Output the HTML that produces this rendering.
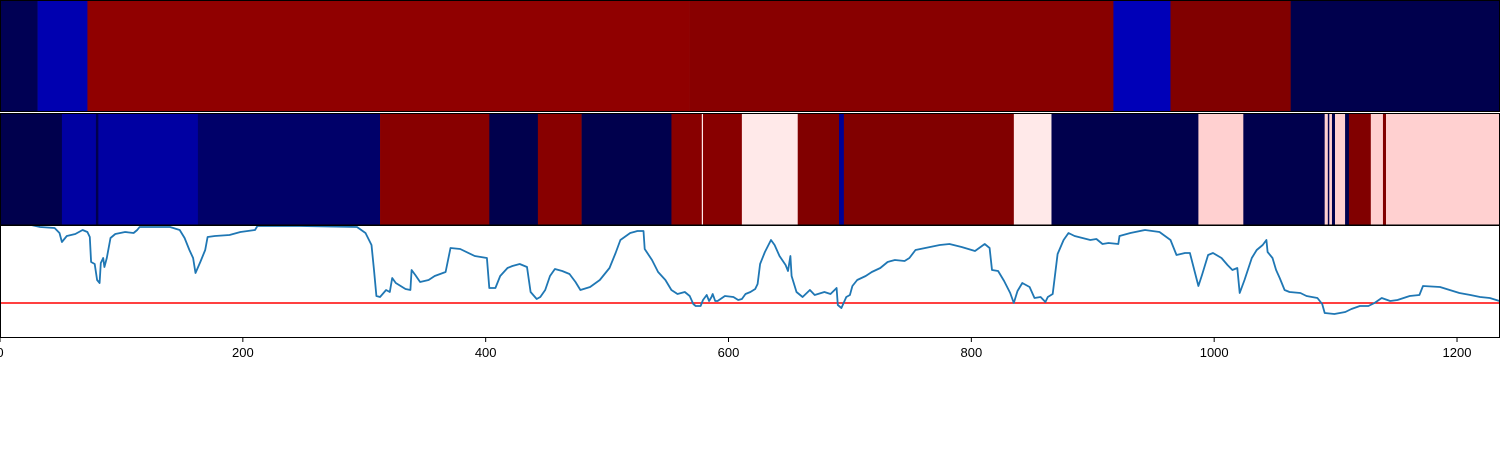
<!DOCTYPE html>
<html><head><meta charset="utf-8"><style>
html,body{margin:0;padding:0;background:#fff;}
svg{display:block;font-family:"Liberation Sans","DejaVu Sans",sans-serif;}
</style></head><body>
<svg id="chart" width="1500" height="450" xmlns="http://www.w3.org/2000/svg">
<g id="row1"></g>
<g id="row2"></g>
<g id="linepanel"></g>
<g id="xaxis"></g>
</svg>
<script>
// ---- data ----
const row1Starts = [0, 31, 72, 568, 917, 964, 1063];
const row1Values = [0.01, 0.14, 0.967, 0.983, 0.15, 0.998, 0.0];
const row2Starts = [0, 51, 79, 81, 163, 313, 403, 443, 479, 553, 578, 579, 581, 611, 657, 691, 695, 835, 866, 987, 1024, 1091, 1093.6, 1094.8, 1097, 1099.5, 1107.8, 1111, 1129, 1139, 1141.5];
const row2Values = [0.0, 0.12, 0.0, 0.12, 0.04, 0.983, 0.0, 0.983, 0.0, 0.983, 0.522, 0.983, 0.983, 0.522, 0.998, 0.1, 0.998, 0.522, 0.0, 0.546, 0.0, 0.546, 0.0, 0.546, 0.0, 0.546, 0.0, 0.998, 0.546, 0.998, 0.546];
const xEnd = 1235.4;
const lineX = [0,33,45,49,51,55,62,68,72,74,75,78,80,82,83,85,86,88,91,95,103,110,113,115,140,148,152,156,159,161,165,169,171,177,189,198,210,212,247,294,301,306,308,310,313,318,321,323,326,334,338,339,342,346,353,358,367,371,379,391,401,403,408,412,418,422,428,434,437,442,445,449,453,457,463,469,474,478,486,494,502,507,511,519,525,530,531,537,542,548,553,558,564,568,571,573,577,579,582,584,586,587,589,591,597,604,608,611,614,618,622,624,626,630,635,638,642,647,649,651,652,656,661,667,671,679,684,689,690,693,697,700,702,706,713,718,725,731,737,745,749,754,766,774,782,792,803,811,815,817,822,827,832,835,838,842,848,852,857,861,863,867,871,876,880,885,898,903,908,913,921,922,931,943,955,964,969,976,980,984,987,990,995,999,1006,1011,1015,1019,1021,1025,1031,1035,1040,1043,1044,1048,1051,1054,1058,1062,1071,1076,1085,1089,1091,1099,1108,1113,1120,1127,1132,1138,1145,1151,1161,1169,1172,1186,1194,1202,1211,1219,1227,1235];
const lineY = [85,76,75,70,61,67,69,73,71,66,41,39,23,20,40,45,36,45,65,69,71,70,73,76,76,73,65,53,45,30,41,53,66,67,68,71,73,77,77,76,70,58,33,7,6,13,11,25,20,14,13,33,28,21,23,27,31,55,54,47,45,15,15,27,35,37,39,36,11,4,6,13,27,34,32,29,21,13,16,23,35,50,63,70,72,72,54,43,31,23,13,9,11,7,-1,-3,-3,3,8,2,6,9,2,2,7,6,3,4,9,11,14,19,39,51,63,58,47,38,32,47,27,11,6,13,8,11,9,15,-2,-5,6,8,17,23,27,31,35,41,43,42,45,53,56,58,59,56,52,59,55,33,32,22,10,0,12,20,16,5,6,1,6,9,49,63,70,67,63,64,59,60,59,67,70,73,71,63,48,50,50,31,17,28,48,50,45,38,33,35,10,23,45,53,58,63,51,45,33,25,13,11,10,7,5,-1,-10,-11,-9,-6,-3,-3,0,5,2,3,7,8,17,16,13,10,8,6,5,2];
const threshold = [0];
const xTicks = [0, 200, 400, 600, 800, 1000, 1200];
const yDomain = [-35, 77];

// ---- helpers ----
const NS = 'http://www.w3.org/2000/svg';
const W = 1500;
const xs = v => v / xEnd * W;
const LT = 226, LB = 338;
const ys = v => LB - (v - yDomain[0]) / (yDomain[1] - yDomain[0]) * (LB - LT);
function seismic(t){
  let r,g,b;
  if(t<0.25){const u=t/0.25;r=0;g=0;b=0.3+0.7*u;}
  else if(t<0.5){const u=(t-0.25)/0.25;r=u;g=u;b=1;}
  else if(t<0.75){const u=(t-0.5)/0.25;r=1;g=1-u;b=1-u;}
  else {const u=(t-0.75)/0.25;r=1-0.5*u;g=0;b=0;}
  return `rgb(${Math.round(r*255)},${Math.round(g*255)},${Math.round(b*255)})`;
}
function mk(tag, attrs, parent){
  const e=document.createElementNS(NS,tag);
  for(const k in attrs) e.setAttribute(k,attrs[k]);
  parent.appendChild(e); return e;
}
function drawRow(gid, starts, vals, y0, y1){
  const g=document.getElementById(gid);
  for(let i=0;i<starts.length;i++){
    const a=xs(starts[i]), b=xs(i+1<starts.length?starts[i+1]:xEnd);
    const r=mk('rect',{x:a,y:y0,width:b-a+0.3,height:y1-y0,fill:seismic(vals[i])},g);
    
    
  }
  const f=mk('rect',{x:0.5,y:y0+0.5,width:W-1,height:y1-y0-1,fill:'none',stroke:'#000','stroke-width':1},g);
  
  
}
drawRow('row1', row1Starts, row1Values, 0, 112);
drawRow('row2', row2Starts, row2Values, 113, 225.5);

// line panel
const lp=document.getElementById('linepanel');
const defs=mk('defs',{},lp);
const cp=mk('clipPath',{id:'clipL'},defs);
mk('rect',{x:0,y:LT,width:W,height:LB-LT},cp);
const th=mk('line',{x1:0,x2:W,y1:ys(threshold[0]),y2:ys(threshold[0]),stroke:'#ff0000','stroke-width':1.5},lp);


let d='';
for(let i=0;i<lineX.length;i++){d+=(i?'L':'M')+xs(lineX[i]).toFixed(1)+','+ys(lineY[i]).toFixed(1);}
const pl=mk('path',{d:d,fill:'none',stroke:'#1f77b4','stroke-width':1.8,'stroke-linejoin':'round','clip-path':'url(#clipL)'},lp);


const fr=mk('rect',{x:0.5,y:LT-0.5,width:W-1,height:LB-LT,fill:'none',stroke:'#000','stroke-width':1},lp);



// x axis
const xa=document.getElementById('xaxis');
xTicks.forEach(t=>{
  const x=xs(t);
  const tk=mk('line',{x1:x,x2:x,y1:LB,y2:LB+4,stroke:'#000','stroke-width':1},xa);
  
  
  const tx=mk('text',{x:x,y:LB+19,'text-anchor':'middle','font-size':13,fill:'#000'},xa);
  tx.textContent=String(t);
  
  
});
</script>
</body></html>
